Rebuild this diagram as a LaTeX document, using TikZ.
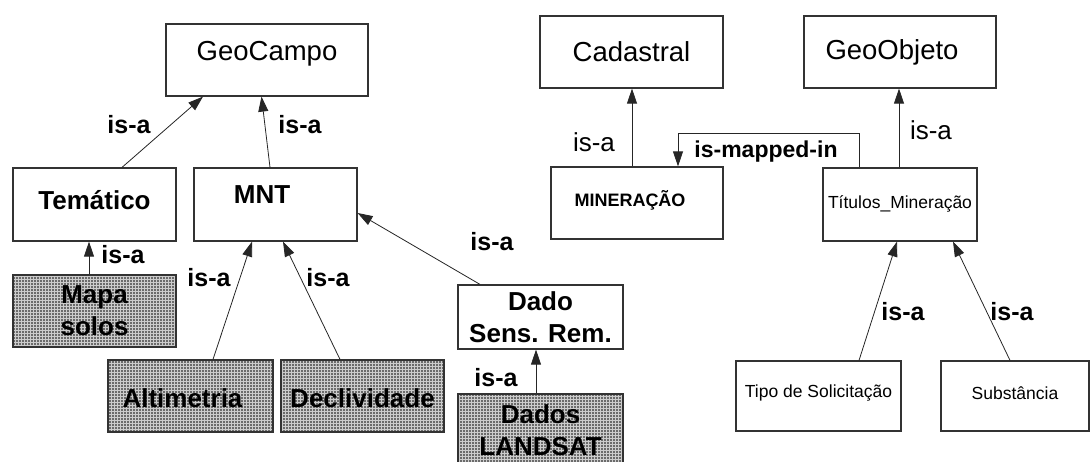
\documentclass[tikz,border=0pt]{standalone}
\usepackage{fontspec}
\setmainfont{Liberation Sans}
\usetikzlibrary{arrows.meta,patterns}
\tikzset{
  box/.style={draw=black!80, line width=1.2pt, rectangle, inner sep=0pt},
  shaded/.style={box, preaction={fill=black!58}, pattern=grid, pattern color=white!80!black},
  big/.style={font=\fontsize{27.5}{32}\selectfont},
  bigb/.style={font=\bfseries\fontsize{26}{32}\selectfont, align=center},
  small/.style={font=\fontsize{17.5}{20}\selectfont},
  smallb/.style={font=\bfseries\fontsize{18}{20}\selectfont},
  isab/.style={font=\bfseries\fontsize{25}{28}\selectfont, inner sep=0pt},
  isar/.style={font=\fontsize{26}{28}\selectfont, inner sep=0pt},
  conn/.style={draw=black!85, line width=0.8pt, -{Triangle[length=15pt,width=10pt]}},
}
\begin{document}
\begin{tikzpicture}[x=1pt,y=-1pt]
\useasboundingbox (0,0) rectangle (1091,462);
% left hierarchy
\node[box, minimum width=202pt, minimum height=72pt] (geocampo) at (267,60)
  [label={[big, yshift=6pt]center:GeoCampo}] {};
\node[box, minimum width=163pt, minimum height=73pt] (tematico) at (94.5,204.5)
  [label={[bigb, yshift=4.5pt]center:Temático}] {};
\node[box, minimum width=163pt, minimum height=73pt] (mnt) at (275.5,204.5)
  [label={[bigb, xshift=-13.5pt, yshift=9.5pt]center:MNT}] {};
\node[shaded, minimum width=163pt, minimum height=72pt] (mapa) at (94.5,311)
  [label={[bigb]center:Mapa\\solos}] {};
\node[shaded, minimum width=165pt, minimum height=72pt] (alt) at (190.5,396)
  [label={[bigb, xshift=-8pt, yshift=-2pt]center:Altimetria}] {};
\node[shaded, minimum width=163pt, minimum height=72pt] (decl) at (362.5,396)
  [label={[bigb, yshift=-2pt]center:Declividade}] {};
\node[box, minimum width=165pt, minimum height=64pt] (dado) at (540.5,317)
  [label={[bigb]center:Dado\\Sens. Rem.}] {};
\node[shaded, minimum width=165pt, minimum height=72pt] (landsat) at (540.5,430)
  [label={[bigb]center:Dados\\LANDSAT}] {};
% right hierarchy
\node[box, minimum width=183pt, minimum height=72pt] (cadastral) at (631.5,52)
  [label={[big]center:Cadastral}] {};
\node[box, minimum width=192pt, minimum height=72pt] (geoobj) at (900,52)
  [label={[big, xshift=-8pt]center:GeoObjeto}] {};
\node[box, minimum width=172pt, minimum height=72pt] (miner) at (637,203)
  [label={[smallb, xshift=-7pt, yshift=3pt]center:MINERAÇÃO}] {};
\node[box, minimum width=154pt, minimum height=73pt] (titulos) at (900,204.5)
  [label={[small, yshift=1pt]center:Títulos\_Mineração}] {};
\node[box, minimum width=165pt, minimum height=70pt] (tipo) at (818.5,396)
  [label={[small, yshift=3pt]center:Tipo de Solicitação}] {};
\node[box, minimum width=148pt, minimum height=70pt] (subst) at (1015,396)
  [label={[small, yshift=3pt]center:Substância}] {};
% connectors left
\draw[conn] ([xshift=27.5pt]tematico.north) -- ([xshift=-64pt]geocampo.south);
\node[isab] (l1) at (129,125) {is-a};
\draw[conn] ([xshift=-5.5pt]mnt.north) -- ([xshift=-5.5pt]geocampo.south);
\node[isab] (l2) at (300,125) {is-a};
\draw[conn] ([xshift=-5.5pt]mapa.north) -- ([xshift=-5.5pt]tematico.south);
\node[isab] (l3) at (123,255) {is-a};
\draw[conn] ([xshift=22.5pt]alt.north) -- ([xshift=-23.5pt]mnt.south);
\node[isab] (l4) at (209,278) {is-a};
\draw[conn] ([xshift=-22.5pt]decl.north) -- ([xshift=7.5pt]mnt.south);
\node[isab] (l5) at (328,278) {is-a};
\draw[conn] ([xshift=-60.5pt]dado.north) -- ([yshift=-8.5pt]mnt.east);
\node[isab] (l6) at (492,242) {is-a};
\draw[conn] ([xshift=-4.5pt]landsat.north) -- ([xshift=-4.5pt]dado.south);
\node[isab] (l7) at (496,378) {is-a};
% connectors right
\draw[conn] ([xshift=-5pt]miner.north) -- ([xshift=0.5pt]cadastral.south);
\node[isar] (r1) at (594,142) {is-a};
\coordinate (mB) at (678,133);
\draw[conn] ([xshift=-41pt]titulos.north) |- (mB) -- ([xshift=41pt]miner.north);
\node[font=\bfseries\fontsize{23}{26}\selectfont, inner sep=0pt] (r2) at (766,152) {is-mapped-in};
\draw[conn] ([xshift=-1pt]titulos.north) -- ([xshift=-1pt]geoobj.south);
\node[isar] (r3) at (931,130) {is-a};
\draw[conn] ([xshift=40.5pt]tipo.north) -- ([xshift=-3pt]titulos.south);
\node[isab] (r4) at (903,312) {is-a};
\draw[conn] ([xshift=-5pt]subst.north) -- ([xshift=53pt]titulos.south);
\node[isab] (r5) at (1012,312) {is-a};
\end{tikzpicture}
\end{document}
